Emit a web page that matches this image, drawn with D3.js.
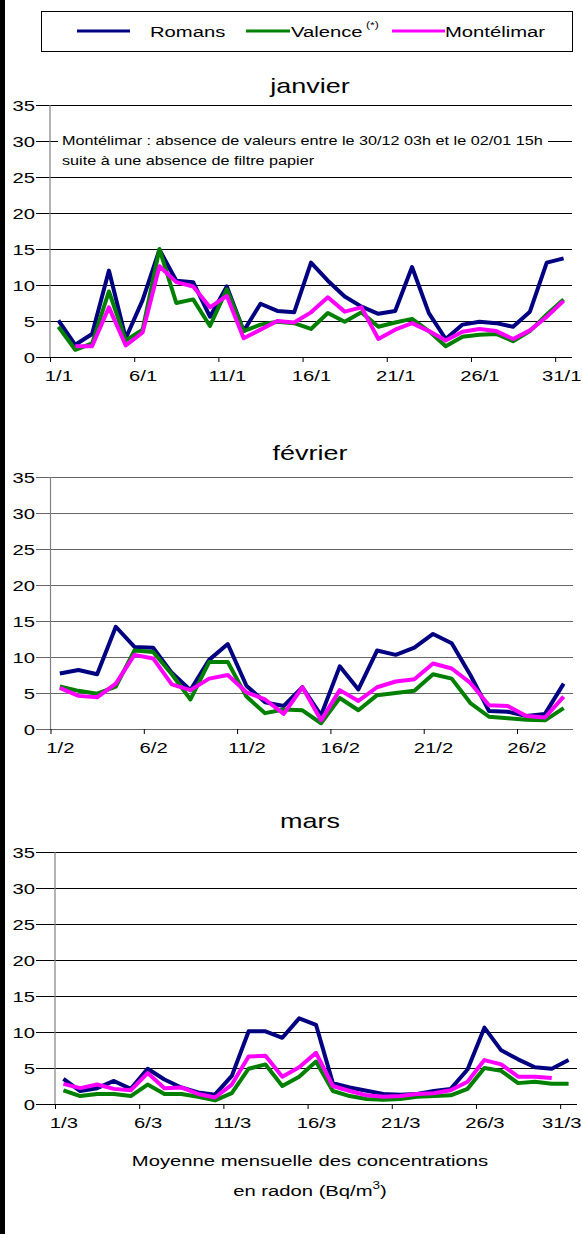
<!DOCTYPE html>
<html>
<head>
<meta charset="utf-8">
<script src="https://cdn.jsdelivr.net/npm/d3@7"></script>
<style>
  body { margin: 0; background: #fff; }
  svg { display: block; font-family: "Liberation Sans", Arial, sans-serif; }
</style>
</head>
<body>
<div id="container"></div>
<script>
const yTicks = [0, 5, 10, 15, 20, 25, 30, 35];
const seriesNames = ["Romans", "Valence", "Montélimar"];
const seriesColors = ["#000080", "#008000", "#ff00ff"];

// janvier
const janDays = [1,2,3,4,5,6,7,8,9,10,11,12,13,14,15,16,17,18,19,20,21,22,23,24,25,26,27,28,29,30,31];
const janTickDays = [1, 6, 11, 16, 21, 26, 31];
const janTickLabels = ["1/1", "6/1", "11/1", "16/1", "21/1", "26/1", "31/1"];
const janRomans = [5.1,1.7,3.2,12.0,2.6,7.9,14.9,10.6,10.4,5.6,9.8,3.6,7.4,6.4,6.2,13.1,10.6,8.4,7.0,6.0,6.4,12.5,6.1,2.5,4.5,4.9,4.7,4.2,6.3,13.1,13.7];
const janValence = [4.2,1.0,1.9,9.1,2.3,3.8,15.0,7.5,8.0,4.3,9.4,3.6,4.5,4.9,4.7,3.9,6.1,4.9,6.2,4.2,4.8,5.3,3.6,1.5,2.8,3.1,3.2,2.2,3.6,5.9,8.0];
const janMontelimar = [null,1.5,1.5,6.9,1.6,3.4,12.6,10.4,9.8,6.9,8.5,2.6,3.8,5.0,4.8,6.2,8.3,6.3,6.9,2.5,3.8,4.7,3.6,2.3,3.5,3.9,3.6,2.5,3.7,5.6,7.8];

// février
const febDays = [1,2,3,4,5,6,7,8,9,10,11,12,13,14,15,16,17,18,19,20,21,22,23,24,25,26,27,28];
const febTickDays = [1, 6, 11, 16, 21, 26];
const febTickLabels = ["1/2", "6/2", "11/2", "16/2", "21/2", "26/2"];
const febRomans = [7.7,8.2,7.6,14.2,11.4,11.3,7.8,5.4,9.6,11.8,6.0,3.7,3.2,5.8,1.9,8.7,5.5,10.9,10.3,11.3,13.2,11.9,7.5,2.5,2.4,1.8,2.1,6.3];
const febValence = [5.9,5.3,4.9,5.9,10.9,10.7,7.6,4.1,9.3,9.3,4.5,2.2,2.7,2.6,0.8,4.3,2.6,4.7,5.0,5.3,7.6,7.0,3.6,1.7,1.5,1.3,1.2,2.9];
const febMontelimar = [5.7,4.6,4.4,6.3,10.3,9.8,6.2,5.4,7.0,7.5,5.1,4.1,2.1,5.8,1.2,5.4,3.9,5.8,6.6,6.9,9.1,8.4,6.4,3.3,3.2,1.8,1.6,4.5];

// mars
const marDays = [1,2,3,4,5,6,7,8,9,10,11,12,13,14,15,16,17,18,19,20,21,22,23,24,25,26,27,28,29,30,31];
const marTickDays = [1, 6, 11, 16, 21, 26, 31];
const marTickLabels = ["1/3", "6/3", "11/3", "16/3", "21/3", "26/3", "31/3"];
const marRomans = [3.5,1.8,2.2,3.2,2.1,4.9,3.4,2.3,1.6,1.3,3.9,10.1,10.1,9.2,11.9,11.0,2.9,2.3,1.85,1.4,1.3,1.4,1.8,2.1,4.8,10.6,7.45,6.2,5.1,4.9,6.1];
const marValence = [1.9,1.1,1.4,1.4,1.1,2.7,1.4,1.4,1.0,0.5,1.5,4.9,5.5,2.5,3.8,5.9,1.8,1.1,0.7,0.6,0.7,1.0,1.1,1.2,2.1,5.0,4.6,2.9,3.1,2.8,2.8];
const marMontelimar = [2.8,2.2,2.7,2.1,1.9,4.3,2.2,2.3,1.4,0.9,2.7,6.6,6.7,3.8,5.1,7.1,2.5,1.8,1.2,1.0,1.1,1.4,1.5,1.9,3.1,6.1,5.5,3.8,3.8,3.6,null];

const W = 582, H = 1234;
const SX = 1.35; // the source picture is stretched horizontally

const svg = d3.select("#container").append("svg")
  .attr("width", W)
  .attr("height", H)
  .attr("viewBox", [0, 0, W, H]);

svg.append("rect").attr("width", W).attr("height", H).attr("fill", "#fff");
svg.append("rect").attr("width", 5).attr("height", H).attr("fill", "#000");

function label(g, x, y, str, size, anchor) {
  return g.append("text")
    .attr("transform", `translate(${x},${y}) scale(${SX},1)`)
    .attr("font-size", size)
    .attr("text-anchor", anchor || "start")
    .attr("fill", "#000")
    .text(str);
}

// legend
const legend = svg.append("g");
legend.append("rect")
  .attr("x", 41.5).attr("y", 11.5).attr("width", 531).attr("height", 40)
  .attr("fill", "#fff").attr("stroke", "#000").attr("stroke-width", 1);
const legendLines = [[77, 130], [246, 290], [392, 445]];
const legendText = [150, 291, 445];
seriesNames.forEach((name, i) => {
  legend.append("line")
    .attr("x1", legendLines[i][0]).attr("x2", legendLines[i][1])
    .attr("y1", 31).attr("y2", 31)
    .attr("stroke", seriesColors[i]).attr("stroke-width", 3);
  label(legend, legendText[i], 37, name, 15);
});
label(legend, 366, 28, "(*)", 9);

function chart(opts) {
  const g = svg.append("g");
  const n = opts.days.length;
  const x = d3.scaleLinear().domain([0.5, n + 0.5]).range([opts.left, opts.right]);
  const y = d3.scaleLinear().domain([0, 35]).range([opts.bottom, opts.top]);

  // gridlines
  g.append("g")
    .attr("transform", `translate(36,0)`)
    .call(d3.axisRight(y).tickValues(yTicks).tickSize(opts.right - 36).tickFormat(""))
    .call(a => a.select(".domain").remove())
    .call(a => a.selectAll(".tick line").attr("stroke", opts.grid));

  // y labels
  g.append("g")
    .attr("transform", `translate(35,0)`)
    .call(d3.axisLeft(y).tickValues(yTicks).tickSize(0).tickPadding(0))
    .call(a => a.select(".domain").remove())
    .call(a => a.attr("font-family", null).attr("font-size", 15))
    .call(a => a.selectAll(".tick text").attr("x", 0).attr("dy", "0.36em")
      .attr("transform", `scale(${SX},1)`).attr("fill", "#000"));

  // vertical axis
  g.append("line")
    .attr("x1", opts.left).attr("x2", opts.left)
    .attr("y1", y(35)).attr("y2", y(0))
    .attr("stroke", "#808080").attr("stroke-width", 1.2);

  // x ticks between categories
  g.append("g")
    .attr("transform", `translate(0,${opts.bottom})`)
    .call(d3.axisBottom(x).tickValues(opts.tickDays.map(d => d - 0.5)).tickSize(5).tickFormat(""))
    .call(a => a.select(".domain").remove())
    .call(a => a.selectAll(".tick line").attr("stroke", "#000"));

  // x labels
  g.append("g")
    .attr("transform", `translate(0,${opts.bottom})`)
    .call(d3.axisBottom(x).tickValues(opts.tickDays).tickSize(0)
      .tickFormat((d, i) => opts.tickLabels[i]))
    .call(a => a.select(".domain").remove())
    .call(a => a.attr("font-family", null).attr("font-size", 15))
    .call(a => a.selectAll(".tick text").attr("y", 24).attr("dy", null)
      .attr("transform", `scale(${SX},1)`).attr("fill", "#000"))
    .call(a => a.selectAll(".tick text").each(function(d) {
      // keep the last label inside the page
      const half = this.getBBox().width * SX / 2;
      const over = x(d) + half - (W - 1);
      if (over > 0) d3.select(this).attr("x", -over / SX);
    }));

  // title
  label(g, 310, opts.titleY, opts.title, 20, "middle");

  if (opts.note) {
    g.append("rect")
      .attr("x", 58).attr("y", 130).attr("width", 490).attr("height", 41)
      .attr("fill", "#fff");
    label(g, 62, 145, opts.note[0], 12);
    label(g, 62, 165, opts.note[1], 12);
  }

  const line = d3.line()
    .defined(d => d != null)
    .x((d, i) => x(opts.days[i]))
    .y(d => y(d));

  opts.series.forEach((s, i) => {
    g.append("path")
      .datum(s)
      .attr("fill", "none")
      .attr("stroke", seriesColors[i])
      .attr("stroke-width", 4)
      .attr("stroke-linejoin", "round")
      .attr("d", line);
  });
}

chart({
  title: "janvier", titleY: 93, top: 105, bottom: 357, left: 50, right: 572, grid: "#000",
  days: janDays, tickDays: janTickDays, tickLabels: janTickLabels,
  series: [janRomans, janValence, janMontelimar],
  note: ["Montélimar : absence de valeurs entre le 30/12 03h et le 02/01 15h",
         "suite à une absence de filtre papier"]
});

chart({
  title: "février", titleY: 460, top: 477, bottom: 729, left: 50.5, right: 573, grid: "#666",
  days: febDays, tickDays: febTickDays, tickLabels: febTickLabels,
  series: [febRomans, febValence, febMontelimar]
});

chart({
  title: "mars", titleY: 828, top: 852, bottom: 1104, left: 55, right: 577, grid: "#000",
  days: marDays, tickDays: marTickDays, tickLabels: marTickLabels,
  series: [marRomans, marValence, marMontelimar]
});

// caption
const cap = svg.append("g");
label(cap, 310, 1166, "Moyenne mensuelle des concentrations", 15, "middle");
const cap2 = label(cap, 310, 1196, "en radon (Bq/m", 15, "middle");
cap2.append("tspan").attr("font-size", 10).attr("dy", -7).text("3");
cap2.append("tspan").attr("dy", 7).text(")");
</script>
</body>
</html>
